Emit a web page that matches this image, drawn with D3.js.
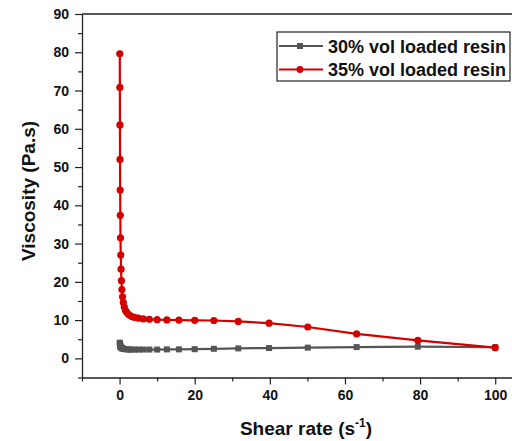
<!DOCTYPE html>
<html>
<head>
<meta charset="utf-8">
<script src="https://cdn.jsdelivr.net/npm/d3@7"></script>
<style>
  body { margin: 0; background: #fff; }
  text { font-family: "Liberation Sans", Arial, sans-serif; font-weight: bold; }
</style>
</head>
<body>
<div id="chart"></div>
<script>
// shear rate (1/s), log spaced, shared by both series
var shearRate = [0.0631, 0.0794, 0.1, 0.126, 0.158, 0.2, 0.251, 0.316, 0.398, 0.501,
  0.631, 0.794, 1, 1.26, 1.58, 2, 2.51, 3.16, 3.98, 5.01,
  6.31, 7.94, 10, 12.6, 15.8, 20, 25.1, 31.6, 39.8, 50.1,
  63.1, 79.4, 100];

var visc30 = [4.1, 3.9, 3.7, 3.5, 3.35, 3.2, 3.05, 2.95, 2.85, 2.75,
  2.65, 2.6, 2.5, 2.45, 2.4, 2.35, 2.3, 2.3, 2.3, 2.3,
  2.3, 2.3, 2.3, 2.35, 2.35, 2.4, 2.5, 2.6, 2.7, 2.8,
  2.95, 3.05, 2.9];

var visc35 = [79.6, 70.8, 61, 52, 44, 37.4, 31.5, 27, 23.3, 20.3,
  18, 16.1, 14.6, 13.4, 12.5, 11.9, 11.4, 11.0, 10.7, 10.5,
  10.3, 10.2, 10.1, 10.05, 10.0, 9.95, 9.9, 9.65, 9.2, 8.2,
  6.4, 4.7, 2.8];

var seriesNames = ['30% vol loaded resin', '35% vol loaded resin'];
var xTicks = [0, 20, 40, 60, 80, 100];
var yTicks = [0, 10, 20, 30, 40, 50, 60, 70, 80, 90];

var width = 512, height = 441;
var svg = d3.select('#chart').append('svg')
  .attr('width', width)
  .attr('height', height);

var x = d3.scaleLinear().domain([-10, 105]).range([82, 514]);
var y = d3.scaleLinear().domain([-5, 90]).range([377.5, 14]);

// frame top line
svg.append('line')
  .attr('x1', x(-10)).attr('x2', x(105))
  .attr('y1', y(90)).attr('y2', y(90))
  .attr('stroke', '#222').attr('stroke-width', 1.3);

// minor ticks
var xMinor = d3.range(-10, 101, 10).filter(function(d) { return d % 20 !== 0; });
var yMinor = d3.range(-5, 90, 10);

svg.append('g')
  .attr('transform', 'translate(0,' + y(-5) + ')')
  .call(d3.axisBottom(x).tickValues(xMinor).tickSize(4).tickFormat(''))
  .call(function(g) { g.select('.domain').remove(); });

svg.append('g')
  .attr('transform', 'translate(' + x(-10) + ',0)')
  .call(d3.axisLeft(y).tickValues(yMinor).tickSize(4).tickFormat(''))
  .call(function(g) { g.select('.domain').remove(); });

svg.append('g')
  .attr('transform', 'translate(0,' + y(-5) + ')')
  .call(d3.axisBottom(x).tickValues(xTicks).tickSize(7).tickSizeOuter(0).tickPadding(6));

svg.append('g')
  .attr('transform', 'translate(' + x(-10) + ',0)')
  .call(d3.axisLeft(y).tickValues(yTicks).tickSize(7).tickSizeOuter(0).tickPadding(6));

svg.selectAll('.domain').attr('stroke', '#222').attr('stroke-width', 1.3);
svg.selectAll('.tick line').attr('stroke', '#222').attr('stroke-width', 1.2);
svg.selectAll('.tick text')
  .attr('fill', '#111')
  .style('font-size', '14px')
  .style('font-family', '"Liberation Sans", Arial, sans-serif')
  .style('font-weight', 'bold');

// axis titles
svg.append('text')
  .attr('transform', 'translate(35,' + 191 + ') rotate(-90)')
  .attr('text-anchor', 'middle')
  .style('font-size', '19px')
  .attr('fill', '#111')
  .text('Viscosity (Pa.s)');

var xTitle = svg.append('text')
  .attr('x', 306).attr('y', 435)
  .attr('text-anchor', 'middle')
  .style('font-size', '19px')
  .attr('fill', '#111');
xTitle.append('tspan').text('Shear rate (s');
xTitle.append('tspan').attr('dy', -8).style('font-size', '12px').text('-1');
xTitle.append('tspan').attr('dy', 8).text(')');

var line = d3.line()
  .x(function(d) { return x(d[0]); })
  .y(function(d) { return y(d[1]); });

var data30 = shearRate.map(function(s, i) { return [s, visc30[i]]; });
var data35 = shearRate.map(function(s, i) { return [s, visc35[i]]; });

var grey = '#555555', red = '#d40000';

svg.append('path').datum(data30)
  .attr('d', line).attr('fill', 'none')
  .attr('stroke', grey).attr('stroke-width', 2.2);

svg.selectAll('.sq').data(data30).enter().append('rect')
  .attr('class', 'sq')
  .attr('x', function(d) { return x(d[0]) - 3; })
  .attr('y', function(d) { return y(d[1]) - 3; })
  .attr('width', 6).attr('height', 6)
  .attr('fill', grey);

svg.append('path').datum(data35)
  .attr('d', line).attr('fill', 'none')
  .attr('stroke', red).attr('stroke-width', 2.2);

svg.selectAll('.dot').data(data35).enter().append('circle')
  .attr('class', 'dot')
  .attr('cx', function(d) { return x(d[0]); })
  .attr('cy', function(d) { return y(d[1]); })
  .attr('r', 3.6)
  .attr('fill', red);

// legend
var legend = svg.append('g');
legend.append('rect')
  .attr('x', 277).attr('y', 32)
  .attr('width', 233).attr('height', 49)
  .attr('fill', '#fff').attr('stroke', '#222').attr('stroke-width', 1.2);

var colors = [grey, red];
seriesNames.forEach(function(name, i) {
  var cy = 46 + i * 23.5;
  legend.append('line')
    .attr('x1', 279).attr('x2', 323)
    .attr('y1', cy).attr('y2', cy)
    .attr('stroke', colors[i]).attr('stroke-width', 2.2);
  if (i === 0) {
    legend.append('rect').attr('x', 297).attr('y', cy - 3)
      .attr('width', 6).attr('height', 6).attr('fill', colors[i]);
  } else {
    legend.append('circle').attr('cx', 300).attr('cy', cy)
      .attr('r', 3.4).attr('fill', colors[i]);
  }
  legend.append('text')
    .attr('x', 328).attr('y', cy + 6.5)
    .style('font-size', '18px')
    .attr('fill', '#111')
    .text(name);
});
</script>
</body>
</html>
